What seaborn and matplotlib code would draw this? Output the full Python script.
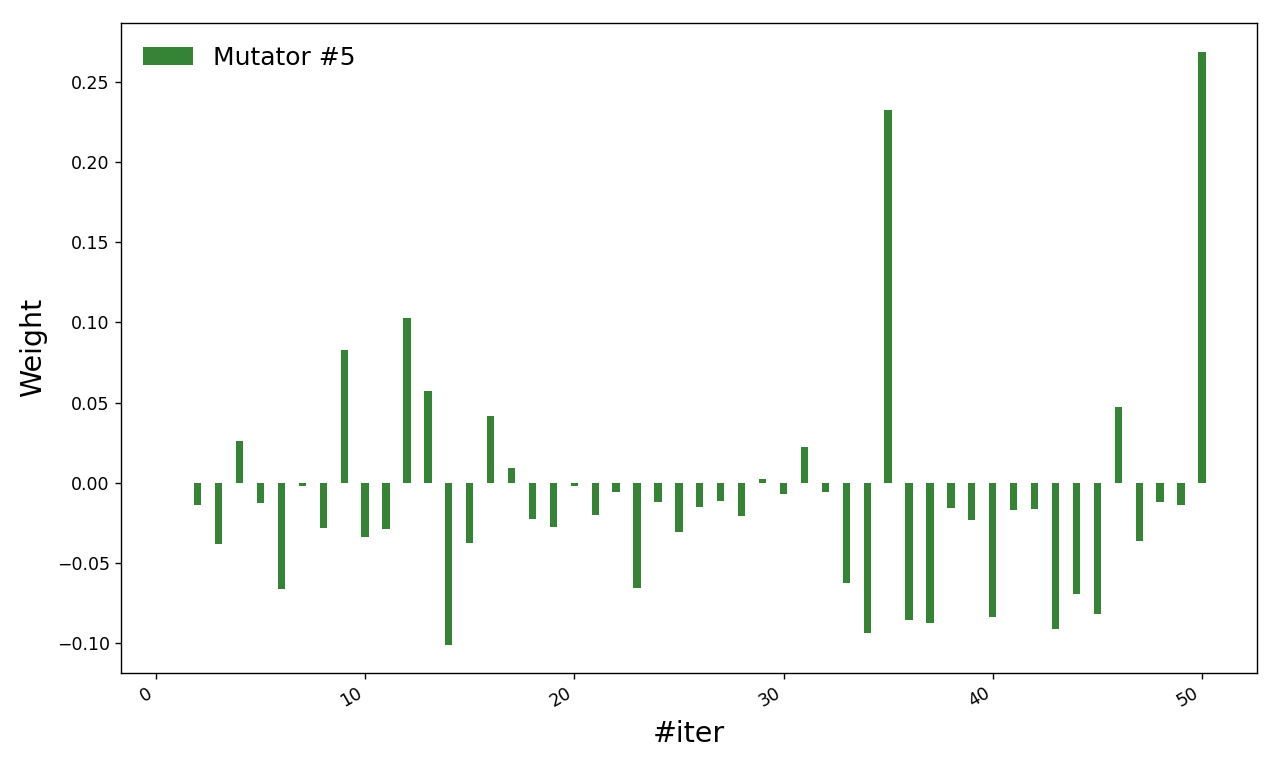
import matplotlib
matplotlib.use("Agg")
import matplotlib.pyplot as plt
import seaborn as sns
import pandas as pd

iters = list(range(1, 51))
weights = [
    0.0, -0.014, -0.038, 0.026, -0.0125, -0.066, -0.002, -0.028, 0.083, -0.0337,
    -0.029, 0.103, 0.057, -0.101, -0.0374, 0.0418, 0.0093, -0.0225, -0.0274, -0.002,
    -0.020, -0.0056, -0.0655, -0.0118, -0.0305, -0.015, -0.0112, -0.0206, 0.0025, -0.0068,
    0.0224, -0.0056, -0.0623, -0.0935, 0.2325, -0.0854, -0.0873, -0.0156, -0.0231, -0.0835,
    -0.0168, -0.0162, -0.091, -0.0692, -0.0817, 0.0474, -0.0362, -0.0118, -0.0137, 0.2687,
]
series_label = "Mutator #5"
x_label = "#iter"
y_label = "Weight"

df = pd.DataFrame({"iter": iters, "weight": weights})

fig = plt.figure(figsize=(12.8, 7.68), dpi=100)
ax = fig.add_axes([0.0945, 0.124, 0.8875, 0.846])
sns.barplot(data=df, x="iter", y="weight", native_scale=True, orient="v",
            width=0.35, color="#358334", saturation=1, errorbar=None,
            label=series_label, ax=ax)

ax.set_xlim(-1.67, 52.63)
ax.set_ylim(-0.1185, 0.2868)
ax.set_xticks([0, 10, 20, 30, 40, 50])
ax.set_yticks([-0.10, -0.05, 0.0, 0.05, 0.10, 0.15, 0.20, 0.25])
ax.set_yticklabels(["\u22120.10", "\u22120.05", "0.00", "0.05", "0.10", "0.15", "0.20", "0.25"])
plt.setp(ax.get_xticklabels(), rotation=30, ha="right")
ax.tick_params(labelsize=12.5, length=4.5, width=1.0)
for s in ax.spines.values():
    s.set_linewidth(1.0)
ax.set_xlabel(x_label, fontsize=20.5, labelpad=7)
ax.set_ylabel(y_label, fontsize=20.5, labelpad=7)
ax.legend(loc="upper left", frameon=False, fontsize=18)

fig.savefig("out.png", dpi=100)
